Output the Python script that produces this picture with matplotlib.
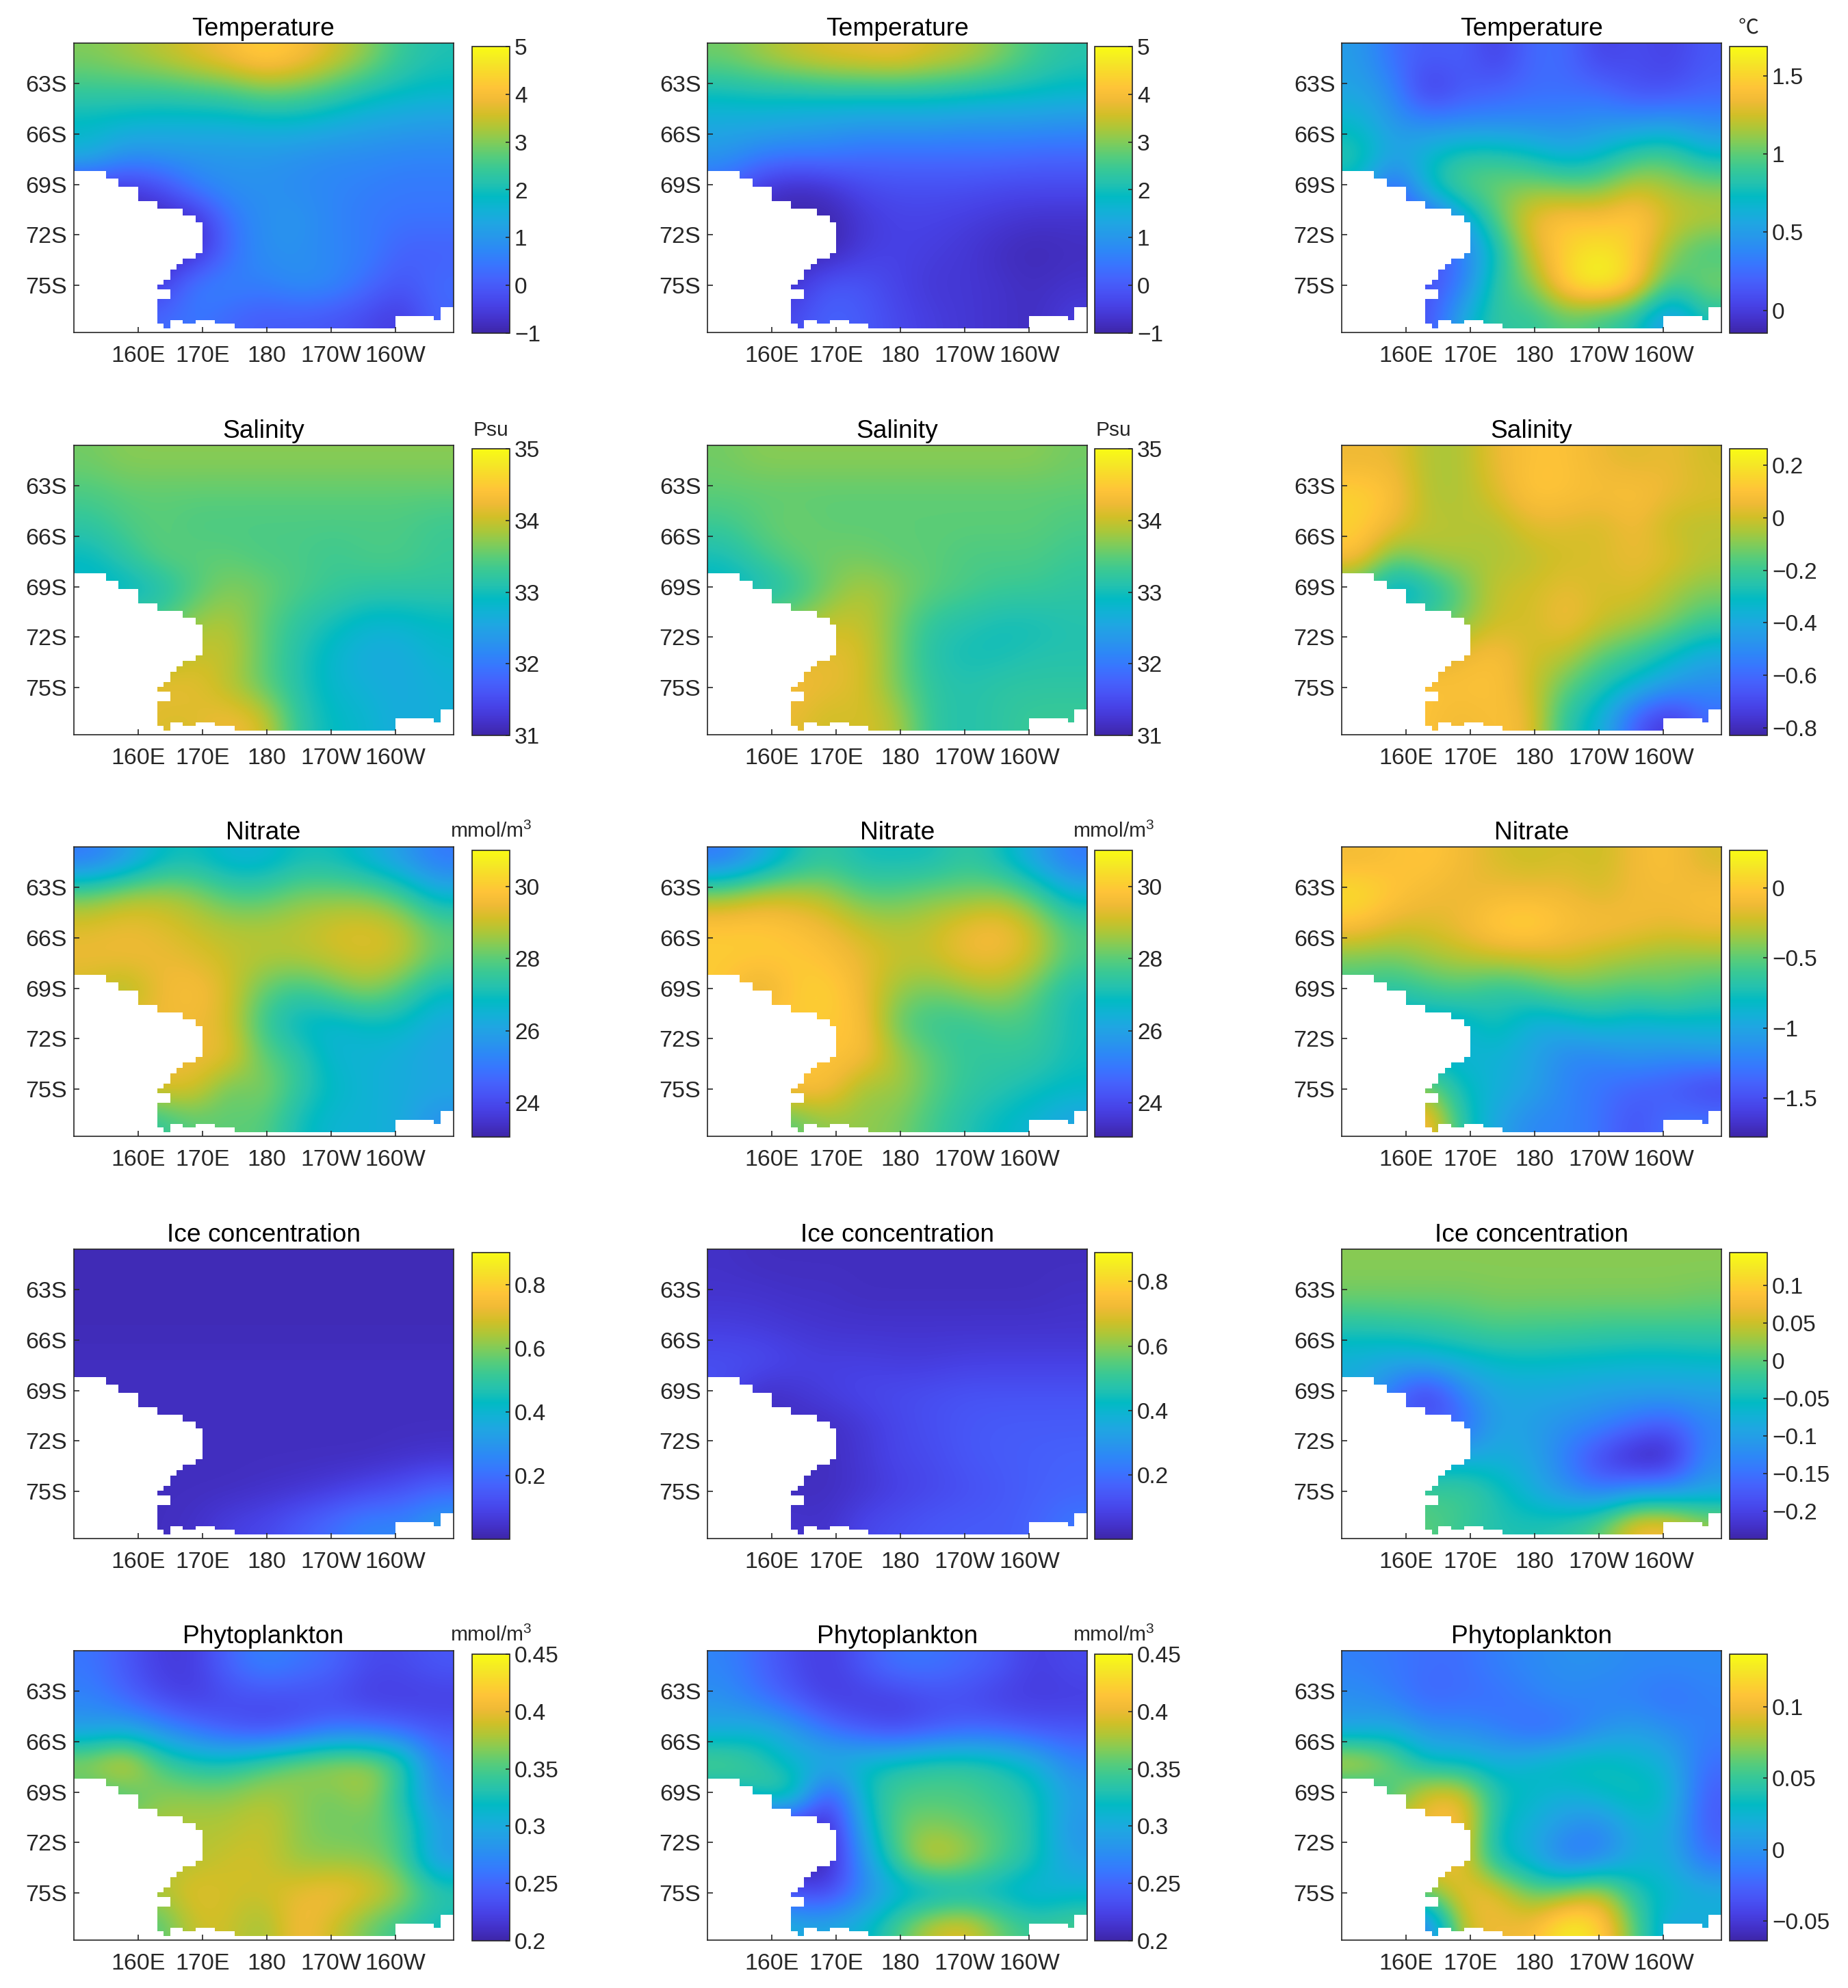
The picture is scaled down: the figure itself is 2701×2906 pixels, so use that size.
import matplotlib
matplotlib.use("Agg")
import matplotlib.pyplot as plt
import numpy as np
from matplotlib.colors import LinearSegmentedColormap

plt.rcParams["font.family"] = ["Liberation Sans", "Noto Sans CJK SC", "DejaVu Sans"]
plt.rcParams["mathtext.default"] = "regular"

FIG_W, FIG_H = 2701, 2906

LON_MIN, LON_MAX = 150, 209
LAT_MIN, LAT_MAX = -77.8, -60.6
LON_TICKS = [160, 170, 180, 190, 200]
LON_LABELS = ["160E", "170E", "180", "170W", "160W"]
LAT_TICKS = [-75, -72, -69, -66, -63]
LAT_LABELS = ["75S", "72S", "69S", "66S", "63S"]

# white land cells, one box per step of the coast
LAND_TOP = [-68.19, -68.65, -69.14, -70.0, -70.46, -70.86, -71.25, -73.08, -73.41, -73.74,
            -74.06, -74.66, -74.95, -75.25, -75.79, -77.07, -77.07, -77.07, -77.29, -77.29,
            -77.56, -76.28, -76.81, -76.81, -77.07]
LAND_BOTTOM = [-68.65, -69.14, -70.0, -70.46, -70.86, -71.25, -73.08, -73.41, -73.74, -74.06,
               -74.66, -74.95, -75.25, -75.79, -77.07, -77.29, -77.29, -77.29, -77.56, -77.56,
               -77.8, -76.81, -77.07, -77.07, -77.56]
LAND_WEST = [150, 150, 150, 150, 150, 150, 150, 150, 150, 150,
             150, 150, 150, 150, 150, 150, 165, 169, 150, 165,
             150, 207, 200, 207, 200]
LAND_EAST = [155, 157, 160, 163, 167, 169, 170, 169, 167, 166,
             165, 164, 163, 165, 163, 163, 167, 172, 164, 175,
             209, 209, 206, 209, 209]

TEMP_1 = [
    [3.0, 3.2, 3.4, 3.7, 4.0, 4.4, 4.1, 3.6, 3.1, 2.4, 2.1],
    [2.4, 2.4, 2.4, 2.5, 2.6, 2.9, 2.8, 2.5, 2.1, 1.9, 1.8],
    [1.8, 1.7, 1.6, 1.6, 1.6, 1.7, 1.7, 1.5, 1.3, 1.2, 1.1],
    [1.6, 0.9, 1.0, 1.0, 1.0, 1.0, 0.9, 0.8, 0.8, 0.7, 0.7],
    [-0.6, -0.6, -0.3, 0.6, 0.9, 0.9, 0.8, 0.7, 0.6, 0.5, 0.5],
    [-0.9, -0.9, -0.9, -0.9, 0.4, 0.9, 1.0, 0.7, 0.5, 0.4, 0.4],
    [-0.9, -0.9, -0.9, -0.9, 0.3, 0.9, 0.9, 0.7, 0.6, 0.1, 0.1],
    [-0.6, -0.6, -0.6, 0.6, 0.7, 0.6, 0.9, 0.8, 0.3, -0.1, 0.3],
    [0.2, 0.2, 0.2, 0.5, 0.2, 0.0, 0.0, -0.1, -0.3, -0.6, 0.2],
]
TEMP_2 = [
    [2.9, 3.2, 3.5, 3.7, 3.8, 3.9, 3.6, 3.4, 3.0, 2.5, 2.2],
    [2.0, 2.1, 2.1, 2.2, 2.2, 2.2, 2.2, 2.1, 2.0, 1.9, 1.8],
    [1.4, 1.4, 1.3, 1.2, 1.1, 1.1, 1.1, 1.0, 1.0, 1.0, 0.9],
    [1.0, 0.6, 0.5, 0.5, 0.3, 0.3, 0.3, 0.3, 0.3, 0.2, 0.2],
    [0.2, -0.6, -0.9, -0.7, -0.3, -0.2, -0.2, -0.2, -0.3, -0.3, -0.3],
    [-0.9, -0.9, -0.9, -1.0, -0.6, -0.4, -0.4, -0.5, -0.6, -0.7, -0.7],
    [-0.9, -0.9, -0.9, -1.0, -0.5, -0.4, -0.5, -0.6, -0.8, -0.9, -0.8],
    [-0.7, -0.7, -0.7, 0.0, -0.1, -0.4, -0.6, -0.6, -0.7, -0.8, -0.7],
    [-0.3, -0.3, -0.3, 0.2, 0.0, -0.3, -0.5, -0.6, -0.7, -0.8, -0.5],
]
TEMP_3 = [
    [0.5, 0.25, 0.15, 0.2, 0.0, 0.25, 0.25, 0.02, 0.1, 0.02, 0.15],
    [0.55, 0.4, -0.05, 0.15, 0.2, 0.25, 0.25, 0.25, 0.1, 0.1, 0.2],
    [0.7, 0.45, 0.4, 0.4, 0.4, 0.4, 0.4, 0.45, 0.45, 0.5, 0.4],
    [0.85, 0.55, 0.7, 0.85, 0.85, 0.75, 0.6, 0.7, 0.9, 0.95, 0.7],
    [0.7, 0.1, 0.75, 1.0, 1.05, 1.1, 1.05, 1.05, 1.25, 1.15, 1.1],
    [0.1, 0.1, 0.1, 0.5, 1.0, 1.35, 1.45, 1.4, 1.5, 1.25, 1.2],
    [0.1, 0.1, 0.1, 0.3, 0.75, 1.25, 1.5, 1.62, 1.45, 1.1, 0.9],
    [0.1, 0.1, 0.1, 0.3, 0.9, 1.05, 1.55, 1.72, 1.5, 0.9, 1.1],
    [0.1, 0.1, 0.1, 0.6, 0.9, 0.85, 1.0, 0.9, 0.8, 0.4, 0.8],
]
SALT_1 = [
    [33.6, 33.7, 33.7, 33.7, 33.7, 33.7, 33.7, 33.7, 33.7, 33.7, 33.7],
    [33.4, 33.5, 33.5, 33.5, 33.5, 33.5, 33.5, 33.5, 33.5, 33.5, 33.5],
    [33.2, 33.4, 33.5, 33.4, 33.4, 33.4, 33.4, 33.4, 33.4, 33.4, 33.3],
    [32.9, 33.2, 33.5, 33.5, 33.5, 33.4, 33.4, 33.3, 33.4, 33.4, 33.3],
    [32.8, 32.8, 33.0, 33.4, 33.7, 33.6, 33.4, 33.3, 33.2, 33.2, 33.2],
    [33.4, 33.4, 33.4, 33.8, 33.9, 33.5, 33.2, 33.0, 32.8, 32.8, 32.9],
    [33.8, 33.8, 33.8, 34.0, 34.0, 33.5, 33.1, 32.8, 32.6, 32.6, 32.8],
    [34.2, 34.2, 34.2, 34.2, 33.9, 33.5, 33.1, 32.8, 32.7, 32.6, 32.7],
    [34.2, 34.2, 34.1, 34.1, 34.3, 34.1, 33.2, 32.9, 32.8, 32.6, 32.7],
]
SALT_2 = [
    [33.6, 33.7, 33.7, 33.7, 33.7, 33.7, 33.7, 33.7, 33.7, 33.7, 33.6],
    [33.5, 33.5, 33.5, 33.5, 33.5, 33.5, 33.5, 33.5, 33.5, 33.5, 33.5],
    [33.3, 33.5, 33.6, 33.5, 33.5, 33.5, 33.5, 33.5, 33.5, 33.5, 33.4],
    [33.0, 33.3, 33.5, 33.6, 33.6, 33.5, 33.5, 33.4, 33.4, 33.4, 33.3],
    [32.8, 32.9, 33.2, 33.6, 33.9, 33.7, 33.5, 33.4, 33.3, 33.3, 33.2],
    [33.7, 33.7, 33.7, 34.0, 34.0, 33.6, 33.2, 33.1, 33.0, 33.0, 33.1],
    [34.1, 34.1, 34.1, 34.2, 34.1, 33.6, 33.1, 33.0, 33.0, 33.1, 33.1],
    [34.3, 34.3, 34.3, 34.2, 34.1, 33.6, 33.2, 33.1, 33.2, 33.2, 33.2],
    [34.2, 34.2, 34.2, 34.0, 34.1, 33.9, 33.2, 33.1, 33.2, 33.3, 33.3],
]
SALT_3 = [
    [0.05, 0.05, -0.05, -0.05, 0.05, 0.1, 0.1, 0.05, 0.02, 0.05, 0.0],
    [0.15, 0.1, -0.05, -0.05, 0.02, 0.12, 0.1, 0.08, 0.1, 0.05, 0.02],
    [0.15, 0.05, -0.03, -0.03, -0.05, 0.03, 0.03, 0.0, 0.07, -0.03, -0.03],
    [0.1, -0.15, -0.05, -0.05, -0.05, -0.03, 0.0, 0.02, 0.05, 0.03, -0.03],
    [-0.2, -0.4, -0.3, -0.15, 0.0, 0.0, 0.05, 0.0, 0.03, -0.05, -0.1],
    [-0.2, -0.2, -0.2, -0.1, 0.0, 0.0, 0.08, 0.0, -0.05, -0.1, -0.2],
    [0.0, 0.0, 0.0, 0.05, 0.1, 0.0, -0.02, -0.15, -0.2, -0.3, -0.4],
    [0.1, 0.1, 0.1, 0.1, 0.1, 0.0, -0.15, -0.25, -0.35, -0.45, -0.5],
    [0.1, 0.1, 0.1, 0.05, 0.1, 0.05, -0.25, -0.35, -0.65, -0.8, -0.6],
]
NO3_1 = [
    [25.0, 25.8, 26.8, 27.0, 26.5, 26.5, 27.0, 27.0, 26.5, 25.8, 25.0],
    [28.2, 28.7, 28.8, 28.5, 27.8, 27.8, 28.3, 28.3, 28.3, 27.7, 26.5],
    [29.3, 29.5, 29.3, 29.0, 28.8, 28.8, 28.9, 29.2, 29.3, 29.0, 28.0],
    [29.5, 29.5, 29.5, 29.3, 29.0, 28.8, 28.8, 29.0, 29.2, 29.0, 28.0],
    [29.0, 28.5, 29.5, 29.8, 29.2, 28.0, 27.5, 28.0, 28.5, 27.8, 26.8],
    [29.5, 29.5, 29.5, 29.5, 29.2, 27.5, 26.7, 26.5, 26.8, 26.8, 26.2],
    [29.5, 29.5, 29.5, 29.5, 29.5, 28.0, 27.5, 26.5, 26.5, 26.3, 26.0],
    [29.3, 29.3, 29.3, 29.3, 28.0, 28.5, 27.5, 26.8, 26.5, 26.3, 26.2],
    [27.0, 27.0, 27.5, 28.0, 28.0, 28.0, 27.0, 26.5, 26.5, 26.3, 25.5],
]
NO3_2 = [
    [25.0, 26.0, 27.0, 27.5, 27.0, 27.0, 27.0, 27.5, 27.0, 26.0, 25.0],
    [28.5, 29.0, 29.0, 28.7, 28.0, 28.0, 28.3, 28.3, 28.5, 27.8, 26.5],
    [30.0, 30.0, 29.8, 29.5, 29.0, 28.8, 29.0, 29.5, 29.7, 29.0, 27.8],
    [30.0, 30.0, 30.0, 29.8, 29.4, 29.0, 29.0, 29.5, 29.5, 29.0, 27.8],
    [30.0, 29.0, 30.0, 30.2, 29.5, 28.5, 28.2, 28.5, 28.7, 28.0, 27.0],
    [30.0, 30.0, 30.0, 30.0, 29.8, 28.0, 27.5, 27.5, 27.8, 27.7, 27.0],
    [29.8, 29.8, 29.8, 29.8, 29.8, 28.7, 28.0, 27.5, 27.5, 27.5, 27.0],
    [29.8, 29.8, 29.8, 29.8, 28.5, 28.7, 28.0, 27.5, 27.3, 27.0, 26.8],
    [27.5, 27.5, 28.0, 28.5, 28.5, 28.3, 27.7, 27.2, 26.8, 26.5, 26.0],
]
NO3_3 = [
    [-0.1, -0.05, 0.0, -0.1, -0.2, -0.25, -0.2, -0.25, -0.1, -0.05, -0.2],
    [0.15, 0.0, -0.1, -0.15, -0.1, -0.1, -0.1, -0.2, -0.1, -0.1, -0.05],
    [-0.05, -0.2, -0.2, -0.1, 0.05, 0.1, -0.05, -0.05, -0.1, -0.15, -0.1],
    [-0.45, -0.45, -0.35, -0.3, -0.25, -0.25, -0.2, -0.3, -0.35, -0.4, -0.4],
    [-0.6, -0.7, -0.6, -0.55, -0.7, -0.6, -0.5, -0.5, -0.55, -0.5, -0.6],
    [-0.9, -0.9, -0.9, -0.9, -0.7, -0.95, -0.9, -0.8, -0.9, -0.85, -0.85],
    [-0.9, -0.9, -0.9, -0.9, -0.9, -1.0, -1.2, -1.2, -1.1, -1.15, -1.1],
    [-0.4, -0.4, -0.4, -0.8, -0.9, -1.0, -1.2, -1.3, -1.4, -1.45, -1.6],
    [0.0, 0.0, 0.0, -0.7, -1.0, -1.2, -1.2, -1.3, -1.5, -1.3, -1.3],
]
ICE_1 = [
    [0.02, 0.02, 0.02, 0.02, 0.02, 0.02, 0.02, 0.02, 0.02, 0.02, 0.02],
    [0.02, 0.02, 0.02, 0.02, 0.02, 0.02, 0.02, 0.02, 0.02, 0.02, 0.02],
    [0.02, 0.02, 0.02, 0.02, 0.02, 0.02, 0.02, 0.02, 0.02, 0.02, 0.02],
    [0.03, 0.03, 0.03, 0.03, 0.03, 0.03, 0.03, 0.03, 0.03, 0.03, 0.03],
    [0.03, 0.03, 0.03, 0.03, 0.03, 0.03, 0.03, 0.03, 0.03, 0.03, 0.03],
    [0.03, 0.03, 0.03, 0.03, 0.03, 0.03, 0.03, 0.03, 0.03, 0.03, 0.03],
    [0.03, 0.03, 0.03, 0.03, 0.03, 0.03, 0.03, 0.03, 0.03, 0.04, 0.05],
    [0.03, 0.03, 0.03, 0.03, 0.03, 0.04, 0.05, 0.07, 0.10, 0.13, 0.18],
    [0.04, 0.03, 0.03, 0.04, 0.08, 0.10, 0.15, 0.20, 0.26, 0.25, 0.32],
]
ICE_2 = [
    [0.04, 0.03, 0.03, 0.03, 0.03, 0.03, 0.03, 0.03, 0.03, 0.03, 0.03],
    [0.05, 0.05, 0.04, 0.04, 0.03, 0.03, 0.03, 0.03, 0.03, 0.03, 0.04],
    [0.08, 0.07, 0.06, 0.05, 0.05, 0.05, 0.05, 0.05, 0.05, 0.05, 0.05],
    [0.12, 0.12, 0.09, 0.08, 0.08, 0.07, 0.07, 0.08, 0.08, 0.08, 0.08],
    [0.12, 0.03, 0.05, 0.08, 0.10, 0.11, 0.12, 0.13, 0.13, 0.13, 0.13],
    [0.03, 0.03, 0.03, 0.03, 0.06, 0.10, 0.12, 0.14, 0.15, 0.15, 0.15],
    [0.03, 0.03, 0.03, 0.03, 0.06, 0.10, 0.11, 0.14, 0.15, 0.16, 0.17],
    [0.03, 0.03, 0.03, 0.03, 0.05, 0.08, 0.10, 0.12, 0.14, 0.16, 0.17],
    [0.05, 0.05, 0.05, 0.04, 0.10, 0.12, 0.14, 0.15, 0.15, 0.17, 0.22],
]
ICE_3 = [
    [0.02, 0.02, 0.02, 0.02, 0.02, 0.02, 0.02, 0.02, 0.02, 0.02, 0.02],
    [0.01, 0.01, 0.01, 0.01, 0.015, 0.015, 0.015, 0.015, 0.015, 0.015, 0.01],
    [-0.04, -0.035, -0.03, -0.02, -0.01, -0.015, -0.015, -0.02, -0.02, -0.02, -0.02],
    [-0.08, -0.09, -0.08, -0.07, -0.06, -0.055, -0.06, -0.06, -0.065, -0.065, -0.06],
    [-0.08, -0.15, -0.22, -0.13, -0.09, -0.09, -0.09, -0.10, -0.10, -0.10, -0.10],
    [-0.17, -0.17, -0.17, -0.17, -0.09, -0.10, -0.12, -0.13, -0.16, -0.18, -0.13],
    [-0.08, -0.08, -0.08, -0.08, -0.08, -0.09, -0.14, -0.20, -0.24, -0.24, -0.12],
    [0.0, 0.0, -0.02, -0.01, -0.04, -0.08, -0.12, -0.15, -0.12, -0.12, -0.10],
    [0.0, 0.0, 0.0, -0.02, -0.04, -0.04, -0.03, 0.0, 0.08, 0.08, 0.03],
]
PHY_1 = [
    [0.26, 0.24, 0.22, 0.22, 0.25, 0.27, 0.26, 0.25, 0.23, 0.23, 0.24],
    [0.27, 0.25, 0.23, 0.22, 0.23, 0.23, 0.23, 0.23, 0.22, 0.22, 0.22],
    [0.29, 0.30, 0.28, 0.26, 0.24, 0.23, 0.24, 0.26, 0.26, 0.25, 0.24],
    [0.38, 0.41, 0.35, 0.33, 0.33, 0.35, 0.37, 0.38, 0.38, 0.35, 0.26],
    [0.34, 0.34, 0.37, 0.37, 0.37, 0.38, 0.37, 0.36, 0.38, 0.33, 0.27],
    [0.38, 0.38, 0.38, 0.38, 0.38, 0.39, 0.37, 0.36, 0.36, 0.35, 0.29],
    [0.38, 0.38, 0.38, 0.38, 0.39, 0.39, 0.37, 0.37, 0.37, 0.35, 0.28],
    [0.38, 0.38, 0.38, 0.40, 0.39, 0.39, 0.40, 0.41, 0.40, 0.38, 0.34],
    [0.35, 0.35, 0.35, 0.39, 0.39, 0.37, 0.41, 0.39, 0.36, 0.34, 0.32],
]
PHY_2 = [
    [0.27, 0.25, 0.23, 0.22, 0.24, 0.26, 0.26, 0.25, 0.24, 0.22, 0.23],
    [0.28, 0.26, 0.24, 0.22, 0.22, 0.22, 0.23, 0.23, 0.22, 0.22, 0.22],
    [0.30, 0.31, 0.29, 0.26, 0.24, 0.23, 0.24, 0.25, 0.25, 0.24, 0.24],
    [0.36, 0.34, 0.31, 0.31, 0.32, 0.33, 0.34, 0.34, 0.33, 0.31, 0.27],
    [0.31, 0.34, 0.35, 0.22, 0.32, 0.35, 0.35, 0.35, 0.34, 0.33, 0.29],
    [0.20, 0.20, 0.20, 0.20, 0.30, 0.36, 0.37, 0.36, 0.35, 0.33, 0.28],
    [0.20, 0.20, 0.20, 0.20, 0.28, 0.35, 0.40, 0.38, 0.35, 0.33, 0.29],
    [0.23, 0.23, 0.23, 0.22, 0.27, 0.30, 0.30, 0.31, 0.31, 0.30, 0.31],
    [0.33, 0.33, 0.30, 0.30, 0.31, 0.35, 0.39, 0.40, 0.36, 0.34, 0.35],
]
PHY_3 = [
    [-0.01, -0.015, -0.02, -0.02, -0.01, -0.005, 0.0, 0.0, -0.005, -0.005, -0.005],
    [0.0, -0.01, -0.025, -0.02, -0.02, -0.01, -0.005, -0.01, -0.01, -0.02, -0.01],
    [0.01, 0.02, 0.0, 0.0, -0.01, -0.025, -0.02, 0.0, 0.01, 0.0, -0.01],
    [0.10, 0.07, 0.03, 0.03, 0.02, 0.03, 0.04, 0.04, 0.03, 0.02, -0.02],
    [0.02, 0.05, 0.10, 0.10, 0.04, 0.03, 0.02, 0.03, 0.04, 0.03, -0.03],
    [0.10, 0.10, 0.10, 0.11, 0.03, 0.02, 0.0, -0.01, 0.02, 0.02, -0.03],
    [0.10, 0.10, 0.10, 0.10, 0.03, 0.02, -0.02, -0.01, 0.02, 0.02, -0.02],
    [0.07, 0.07, 0.07, 0.10, 0.10, 0.06, 0.07, 0.09, 0.04, 0.03, 0.02],
    [-0.02, -0.02, -0.02, 0.09, 0.10, 0.10, 0.135, 0.12, 0.06, 0.01, 0.02],
]

TITLES = ["Temperature", "Salinity", "Nitrate", "Ice concentration", "Phytoplankton"]
FIELDS = [
    [TEMP_1, TEMP_2, TEMP_3],
    [SALT_1, SALT_2, SALT_3],
    [NO3_1, NO3_2, NO3_3],
    [ICE_1, ICE_2, ICE_3],
    [PHY_1, PHY_2, PHY_3],
]
LIMITS = [
    [(-1, 5), (-1, 5), (-0.146, 1.686)],
    [(31, 35), (31, 35), (-0.829, 0.2625)],
    [(23.05, 31), (23.05, 31), (-1.78, 0.27)],
    [(0.0, 0.9), (0.0, 0.89), (-0.237, 0.144)],
    [(0.2, 0.45), (0.2, 0.45), (-0.064, 0.137)],
]
TICKS = [
    [[-1, 0, 1, 2, 3, 4, 5], [-1, 0, 1, 2, 3, 4, 5], [0, 0.5, 1, 1.5]],
    [[31, 32, 33, 34, 35], [31, 32, 33, 34, 35], [-0.8, -0.6, -0.4, -0.2, 0, 0.2]],
    [[24, 26, 28, 30], [24, 26, 28, 30], [-1.5, -1, -0.5, 0]],
    [[0.2, 0.4, 0.6, 0.8], [0.2, 0.4, 0.6, 0.8], [-0.2, -0.15, -0.1, -0.05, 0, 0.05, 0.1]],
    [[0.2, 0.25, 0.3, 0.35, 0.4, 0.45], [0.2, 0.25, 0.3, 0.35, 0.4, 0.45], [-0.05, 0, 0.05, 0.1]],
]
UNITS = [
    ["", "", "℃"],
    ["Psu", "Psu", ""],
    ["mmol/m$^{3}$", "mmol/m$^{3}$", ""],
    ["", "", ""],
    ["mmol/m$^{3}$", "mmol/m$^{3}$", ""],
]

# panel frames in pixels of the full picture
COL_X = [107.5, 1034, 1961]
COL_W = 555
CBAR_X = [690, 1600, 2528]
CBAR_W = 55
ROW_Y = [63, 651, 1238, 1826, 2413]
ROW_H = 423
CBAR_H = 419

# parula
PARULA = [
    (0.2422, 0.1504, 0.6603), (0.2647, 0.1978, 0.7952), (0.2783, 0.2559, 0.8991),
    (0.2810, 0.3228, 0.9579), (0.2699, 0.3892, 0.9906), (0.2206, 0.4603, 0.9973),
    (0.1786, 0.5289, 0.9682), (0.1540, 0.5902, 0.9218), (0.1248, 0.6459, 0.8883),
    (0.0689, 0.6948, 0.8394), (0.0067, 0.7312, 0.7660), (0.1408, 0.7584, 0.6842),
    (0.2161, 0.7843, 0.5923), (0.3406, 0.8008, 0.4789), (0.5044, 0.7993, 0.3480),
    (0.6720, 0.7793, 0.2227), (0.8203, 0.7498, 0.1535), (0.9393, 0.7288, 0.2100),
    (0.9970, 0.7659, 0.2199), (0.9786, 0.8386, 0.1766), (0.9597, 0.9135, 0.1423),
    (0.9769, 0.9839, 0.0805),
]
CMAP = LinearSegmentedColormap.from_list("parula", PARULA, N=256)
DARK = "#262626"


def to_fig(x, y, w, h):
    return [x / FIG_W, 1 - (y + h) / FIG_H, w / FIG_W, h / FIG_H]


def tick_text(value):
    return f"{value:g}".replace("-", "\u2212")


def draw_panel(fig, row, col):
    vmin, vmax = LIMITS[row][col]
    ax = fig.add_axes(to_fig(COL_X[col], ROW_Y[row], COL_W, ROW_H))
    im = ax.imshow(np.array(FIELDS[row][col]), cmap=CMAP, vmin=vmin, vmax=vmax, aspect="auto",
                   interpolation="bicubic", extent=[LON_MIN, LON_MAX, LAT_MIN, LAT_MAX])

    lat_top = np.array(LAND_TOP)
    lat_bottom = np.array(LAND_BOTTOM)
    west = np.array(LAND_WEST)
    ax.barh((lat_top + lat_bottom) / 2, np.array(LAND_EAST) - west, lat_top - lat_bottom,
            left=west, color="white", linewidth=0)

    ax.set_xlim(LON_MIN, LON_MAX)
    ax.set_ylim(LAT_MIN, LAT_MAX)
    ax.set_xticks(LON_TICKS, LON_LABELS)
    ax.set_yticks(LAT_TICKS, LAT_LABELS)
    ax.tick_params(direction="in", length=6, width=1.2, color=DARK, labelcolor=DARK, labelsize=24.5)
    ax.tick_params(axis="x", pad=14)
    ax.tick_params(axis="y", pad=7)
    for spine in ax.spines.values():
        spine.set_color(DARK)
        spine.set_linewidth(1.2)
    ax.set_title(TITLES[row], fontsize=26.7, color="black", pad=8)

    cax = fig.add_axes(to_fig(CBAR_X[col], ROW_Y[row] + 5, CBAR_W, CBAR_H))
    cbar = fig.colorbar(im, cax=cax)
    ticks = TICKS[row][col]
    cbar.set_ticks(ticks, labels=[tick_text(t) for t in ticks])
    cbar.ax.tick_params(direction="in", length=4, width=1.2, color=DARK, labelcolor=DARK,
                        labelsize=24, pad=5)
    cbar.outline.set_edgecolor(DARK)
    cbar.outline.set_linewidth(1.2)

    if UNITS[row][col]:
        cax.text(0.5, 1.03, UNITS[row][col], transform=cax.transAxes, ha="center", va="bottom",
                 fontsize=21.5, color=DARK)


def main():
    fig = plt.figure(figsize=(FIG_W / 100, FIG_H / 100), dpi=100)

    for row in range(len(TITLES)):
        for col in range(3):
            draw_panel(fig, row, col)

    fig.savefig("out.png", dpi=100)


if __name__ == "__main__":
    main()
